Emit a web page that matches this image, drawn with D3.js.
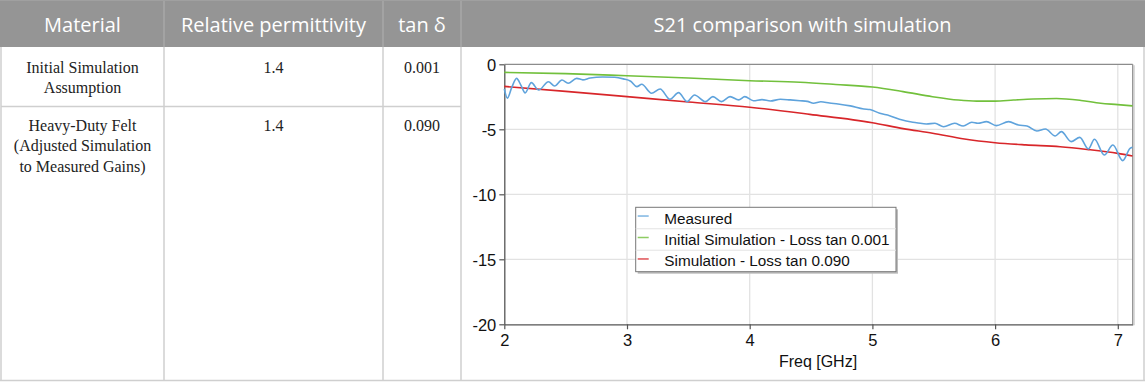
<!DOCTYPE html>
<html><head><meta charset="utf-8">
<script src="https://cdn.jsdelivr.net/npm/d3@7"></script>
<style>html,body{margin:0;padding:0;background:#fff;}svg{display:block;}</style>
</head><body>
<svg id="c" width="1145" height="382"></svg>
<script>
// ---- table content ----
const headers = ["Material", "Relative permittivity", "tan δ", "S21 comparison with simulation"];
const materialRows = [
  ["Initial Simulation", "Assumption"],
  ["Heavy-Duty Felt", "(Adjusted Simulation", "to Measured Gains)"]
];
const permittivity = ["1.4", "1.4"];
const lossTangent = ["0.001", "0.090"];

// ---- chart data ----
const seriesNames = ["Measured", "Initial Simulation - Loss tan 0.001", "Simulation - Loss tan 0.090"];
const seriesColors = ["#5fa3dc", "#72c03c", "#d8262a"];
const measuredFreq = [2.00,2.025,2.06,2.10,2.135,2.17,2.22,2.28,2.36,2.41,2.47,2.52,2.59,2.64,2.70,2.80,2.90,2.97,3.03,3.08,3.12,3.20,3.27,3.35,3.42,3.49,3.55,3.64,3.70,3.77,3.84,3.91,3.96,4.03,4.10,4.17,4.25,4.33,4.41,4.47,4.52,4.58,4.65,4.72,4.82,4.93,4.98,5.06,5.14,5.22,5.33,5.36,5.44,5.51,5.58,5.67,5.74,5.81,5.86,5.93,6.01,6.11,6.19,6.26,6.34,6.41,6.49,6.54,6.62,6.69,6.76,6.81,6.89,6.96,7.04,7.10,7.12];
const measuredS21 = [-1.9,-2.6,-1.8,-1.08,-1.6,-2.2,-1.41,-1.98,-1.34,-1.67,-1.21,-1.46,-1.08,-1.2,-1.05,-0.98,-1.0,-1.12,-1.3,-1.72,-1.54,-2.23,-1.9,-2.69,-2.18,-2.87,-2.36,-2.87,-2.49,-2.87,-2.49,-2.74,-2.49,-2.8,-2.72,-2.82,-2.69,-2.74,-2.8,-2.85,-3.0,-2.88,-2.98,-3.05,-3.2,-3.44,-3.48,-3.77,-3.95,-4.23,-4.46,-4.49,-4.59,-4.54,-4.8,-4.54,-4.75,-4.46,-4.54,-4.41,-4.72,-4.41,-4.67,-4.75,-5.13,-4.98,-5.51,-5.18,-5.95,-5.62,-6.51,-5.77,-6.98,-6.21,-7.41,-6.46,-6.38];
const initialFreq = [2.0,2.5,3.0,3.5,4.0,4.41,4.7,5.0,5.25,5.49,5.7,5.85,6.0,6.15,6.31,6.5,6.7,6.86,7.0,7.12];
const initialS21 = [-0.62,-0.72,-0.88,-1.05,-1.26,-1.38,-1.55,-1.75,-2.1,-2.49,-2.75,-2.83,-2.83,-2.75,-2.67,-2.63,-2.78,-3.0,-3.1,-3.2];
const adjustedFreq = [2.0,2.5,3.0,3.5,4.0,4.49,5.0,5.25,5.49,5.75,6.0,6.25,6.53,6.75,7.0,7.12];
const adjustedS21 = [-1.7,-2.08,-2.49,-2.9,-3.3,-3.85,-4.49,-4.95,-5.3,-5.75,-6.03,-6.2,-6.34,-6.55,-6.85,-7.05];
const xTicks = [2,3,4,5,6,7];
const yTicks = [0,-5,-10,-15,-20];
const xLabel = "Freq [GHz]";

const svg = d3.select("#c");

// ---- table ----
const colX = [1, 164, 383, 461, 1144];
const headerH = 47, row1Bottom = 106.5, tableBottom = 380.5;
svg.append("rect").attr("x",0).attr("y",0).attr("width",1145).attr("height",headerH).attr("fill","#959595");
colX.slice(1,-1).forEach(x=>{
  svg.append("line").attr("x1",x).attr("x2",x).attr("y1",0).attr("y2",headerH).attr("stroke","#a9a9a9").attr("stroke-width",1.5);
});
headers.forEach((h,i)=>{
  svg.append("text").attr("x",(colX[i]+colX[i+1])/2).attr("y",32)
    .attr("text-anchor","middle").attr("fill","#fff")
    .style("font-family","'Open Sans','Noto Sans',sans-serif").style("font-size","20px").text(h);
});
const bc = "#cfcfcf";
colX.forEach(x=>{
  svg.append("line").attr("x1",x).attr("x2",x).attr("y1",headerH).attr("y2",tableBottom).attr("stroke",bc).attr("stroke-width",1.5);
});
svg.append("line").attr("x1",colX[0]).attr("x2",colX[3]).attr("y1",row1Bottom).attr("y2",row1Bottom).attr("stroke",bc).attr("stroke-width",1.5);
svg.append("line").attr("x1",0).attr("x2",1145).attr("y1",tableBottom).attr("y2",tableBottom).attr("stroke",bc).attr("stroke-width",1.5);
svg.append("line").attr("x1",0).attr("x2",1145).attr("y1",0.5).attr("y2",0.5).attr("stroke","#a0a0a0").attr("stroke-width",1);

const serif = "'Liberation Serif','DejaVu Serif',serif";
const rowBase = [72.5, 131];
materialRows.forEach((lines,r)=>{
  lines.forEach((t,k)=>{
    svg.append("text").attr("x",(colX[0]+colX[1])/2).attr("y",rowBase[r]+k*20.3)
      .attr("text-anchor","middle").attr("fill","#222").style("font-family",serif).style("font-size","16px").text(t);
  });
  svg.append("text").attr("x",(colX[1]+colX[2])/2).attr("y",rowBase[r]).attr("text-anchor","middle")
    .attr("fill","#222").style("font-family",serif).style("font-size","16px").text(permittivity[r]);
  svg.append("text").attr("x",(colX[2]+colX[3])/2).attr("y",rowBase[r]).attr("text-anchor","middle")
    .attr("fill","#222").style("font-family",serif).style("font-size","16px").text(lossTangent[r]);
});

// ---- chart ----
const L=504.3, R=1132.7, T=64.3, B=324.3;
const x = d3.scaleLinear().domain([2, 2 + (R-L)/122.7]).range([L,R]);
const y = d3.scaleLinear().domain([-20,0]).range([B,T]);
const g = svg.append("g");
const sans = "'Liberation Sans',Arial,sans-serif";

g.selectAll(".gx").data(xTicks.filter(d=>d>2)).join("line")
  .attr("x1",d=>x(d)).attr("x2",d=>x(d)).attr("y1",T).attr("y2",B).attr("stroke","#e2e2e2").attr("stroke-width",1.3);
g.selectAll(".gy").data(yTicks.filter(d=>d<0 && d>-20)).join("line")
  .attr("x1",L).attr("x2",R).attr("y1",d=>y(d)).attr("y2",d=>y(d)).attr("stroke","#e2e2e2").attr("stroke-width",1.3);
g.append("line").attr("x1",L).attr("x2",R).attr("y1",T).attr("y2",T).attr("stroke","#8c8c8c").attr("stroke-width",1.2);
g.append("line").attr("x1",R+1.5).attr("x2",R+1.5).attr("y1",T+1).attr("y2",B+1).attr("stroke","#d8d8d8").attr("stroke-width",1.5);
g.append("line").attr("x1",R).attr("x2",R).attr("y1",T).attr("y2",B).attr("stroke","#8c8c8c").attr("stroke-width",1.2);

const xAxis = d3.axisBottom(x).tickValues(xTicks).tickSize(5).tickSizeOuter(0).tickPadding(3).tickFormat(d=>String(d));
const yAxis = d3.axisLeft(y).tickValues(yTicks).tickSize(5).tickSizeOuter(0).tickPadding(3).tickFormat(d=>String(d));
const ax = g.append("g").attr("transform",`translate(0,${B})`).call(xAxis);
const ay = g.append("g").attr("transform",`translate(${L},0)`).call(yAxis);
[ax,ay].forEach(a=>{
  a.select(".domain").attr("stroke","#555").attr("stroke-width",1.3);
  a.selectAll(".tick line").attr("stroke","#555").attr("stroke-width",1.2);
  a.selectAll("text").attr("fill","#111").style("font-family",sans).style("font-size","16.5px");
});
ax.selectAll("text").attr("dy","0.85em");
ay.selectAll("text").attr("dy","0.36em");
g.append("text").attr("x",818).attr("y",367).attr("text-anchor","middle").attr("fill","#111")
  .style("font-family",sans).style("font-size","16px").text(xLabel);

const line = d3.line().x(d=>x(d[0])).y(d=>y(d[1])).curve(d3.curveMonotoneX);
const series = [
  d3.zip(initialFreq, initialS21),
  d3.zip(adjustedFreq, adjustedS21),
  d3.zip(measuredFreq, measuredS21)
];
const colorOrder = [seriesColors[1], seriesColors[2], seriesColors[0]];
series.forEach((s,i)=>{
  g.append("path").datum(s).attr("d",line).attr("fill","none").attr("stroke",colorOrder[i]).attr("stroke-width",1.6);
});

const lx=635.7, ly=207.3, lw=260.3, lh=64.4, rowH=lh/3;
g.append("rect").attr("x",lx+2).attr("y",ly+2).attr("width",lw).attr("height",lh).attr("fill","#bdbdbd");
g.append("rect").attr("x",lx).attr("y",ly).attr("width",lw).attr("height",lh).attr("fill","#fff").attr("stroke","#777").attr("stroke-width",1);
seriesNames.forEach((n,i)=>{
  const cy = ly + rowH*i + rowH/2;
  if(i>0) g.append("line").attr("x1",lx).attr("x2",lx+lw).attr("y1",ly+rowH*i).attr("y2",ly+rowH*i).attr("stroke","#e3e3e3").attr("stroke-width",1);
  g.append("line").attr("x1",lx+2).attr("x2",lx+13).attr("y1",cy-2).attr("y2",cy-2).attr("stroke",seriesColors[i]).attr("stroke-width",1.5).attr("opacity",0.8);
  g.append("text").attr("x",664.3).attr("y",cy+5.5).attr("fill","#111").style("font-family",sans).style("font-size","15.3px").text(n);
});
</script>
</body></html>
